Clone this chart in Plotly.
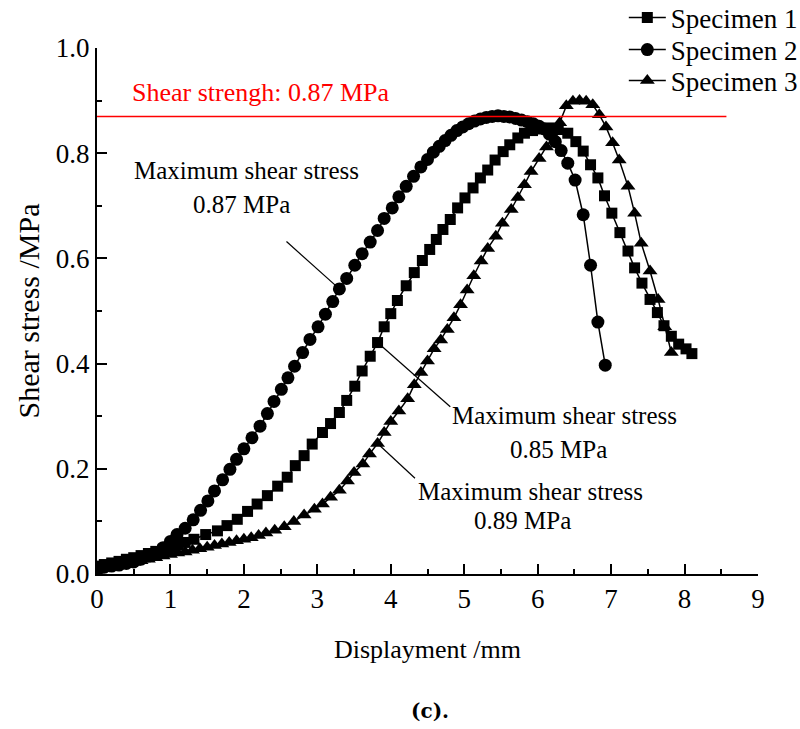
import plotly.graph_objects as go

# ---------------- data ----------------
s1_x = [0.00, 0.10, 0.20, 0.30, 0.40, 0.50, 0.60, 0.70, 0.80, 0.90, 1.00, 1.10, 1.20, 1.32, 1.48,
        1.64, 1.77, 1.91, 2.05, 2.18, 2.32, 2.46, 2.59, 2.70, 2.82, 2.93, 3.07, 3.18, 3.30, 3.40,
        3.51, 3.61, 3.72, 3.82, 3.91, 4.00, 4.09, 4.21, 4.32, 4.43, 4.53, 4.62, 4.71, 4.81, 4.91,
        5.01, 5.12, 5.22, 5.32, 5.42, 5.53, 5.62, 5.73, 5.82, 5.93, 6.05, 6.16, 6.28, 6.41, 6.52,
        6.62, 6.72, 6.82, 6.91, 7.01, 7.12, 7.23, 7.32, 7.42, 7.53, 7.63, 7.72, 7.82, 7.92, 8.02, 8.10]
s1_y = [0.015, 0.018, 0.021, 0.024, 0.028, 0.031, 0.035, 0.039, 0.043, 0.047, 0.051, 0.055, 0.060, 0.066, 0.075,
        0.082, 0.092, 0.104, 0.119, 0.133, 0.149, 0.167, 0.184, 0.206, 0.225, 0.247, 0.269, 0.286, 0.307, 0.330,
        0.357, 0.386, 0.414, 0.440, 0.470, 0.495, 0.520, 0.548, 0.573, 0.596, 0.617, 0.636, 0.655, 0.674, 0.696,
        0.715, 0.734, 0.753, 0.768, 0.787, 0.803, 0.816, 0.829, 0.838, 0.843, 0.846, 0.848, 0.845, 0.838, 0.822,
        0.804, 0.778, 0.753, 0.719, 0.686, 0.649, 0.614, 0.582, 0.553, 0.522, 0.497, 0.472, 0.452, 0.437, 0.428, 0.419]

s2_x = [0.00, 0.05, 0.10, 0.20, 0.30, 0.40, 0.50, 0.60, 0.70, 0.80, 0.90, 1.00, 1.09, 1.20, 1.31,
        1.41, 1.51, 1.60, 1.71, 1.81, 1.90, 2.00, 2.11, 2.22, 2.32, 2.41, 2.51, 2.60, 2.69, 2.80,
        2.90, 3.01, 3.11, 3.21, 3.30, 3.40, 3.51, 3.61, 3.72, 3.82, 3.91, 4.02, 4.11, 4.21, 4.31,
        4.41, 4.50, 4.58, 4.66, 4.74, 4.82, 4.90, 4.98, 5.06, 5.14, 5.22, 5.30, 5.38, 5.46, 5.54,
        5.62, 5.70, 5.78, 5.86, 5.94, 6.02, 6.09, 6.16, 6.24, 6.32, 6.41, 6.51, 6.62, 6.72, 6.82, 6.92]
s2_y = [0.010, 0.012, 0.013, 0.015, 0.017, 0.020, 0.023, 0.028, 0.034, 0.041, 0.050, 0.062, 0.075, 0.087, 0.103,
        0.121, 0.139, 0.158, 0.179, 0.199, 0.218, 0.238, 0.259, 0.281, 0.305, 0.328, 0.351, 0.373, 0.395, 0.421,
        0.446, 0.470, 0.494, 0.518, 0.542, 0.562, 0.587, 0.609, 0.631, 0.653, 0.676, 0.696, 0.717, 0.737, 0.756,
        0.774, 0.788, 0.802, 0.813, 0.824, 0.834, 0.843, 0.850, 0.856, 0.861, 0.865, 0.868, 0.870, 0.871, 0.870,
        0.869, 0.866, 0.863, 0.860, 0.856, 0.851, 0.846, 0.836, 0.822, 0.805, 0.781, 0.749, 0.683, 0.587, 0.479, 0.397]

s3_x = [0.00, 0.10, 0.20, 0.30, 0.40, 0.50, 0.60, 0.70, 0.80, 0.90, 1.00, 1.10, 1.20, 1.30, 1.40,
        1.50, 1.60, 1.70, 1.80, 1.90, 2.00, 2.10, 2.20, 2.30, 2.42, 2.55, 2.68, 2.82, 2.96, 3.07,
        3.18, 3.30, 3.41, 3.50, 3.62, 3.71, 3.82, 3.91, 4.00, 4.11, 4.23, 4.32, 4.41, 4.50, 4.59,
        4.68, 4.77, 4.86, 4.95, 5.04, 5.13, 5.23, 5.32, 5.43, 5.52, 5.64, 5.73, 5.82, 5.91, 6.02,
        6.12, 6.21, 6.30, 6.39, 6.48, 6.57, 6.66, 6.75, 6.84, 6.93, 7.02, 7.11, 7.23, 7.32, 7.41,
        7.53, 7.64, 7.73, 7.82]
s3_y = [0.010, 0.012, 0.014, 0.017, 0.020, 0.022, 0.025, 0.028, 0.031, 0.034, 0.037, 0.040, 0.042, 0.045, 0.048,
        0.051, 0.054, 0.057, 0.060, 0.063, 0.066, 0.069, 0.073, 0.078, 0.083, 0.090, 0.100, 0.112, 0.123, 0.133,
        0.146, 0.159, 0.177, 0.193, 0.209, 0.228, 0.248, 0.269, 0.290, 0.310, 0.333, 0.360, 0.383, 0.405, 0.428,
        0.445, 0.465, 0.487, 0.512, 0.540, 0.567, 0.595, 0.619, 0.642, 0.667, 0.693, 0.716, 0.740, 0.765, 0.790,
        0.812, 0.833, 0.858, 0.890, 0.899, 0.900, 0.899, 0.892, 0.873, 0.850, 0.820, 0.787, 0.737, 0.686, 0.629,
        0.576, 0.522, 0.470, 0.421]

series_names = ["Specimen 1", "Specimen 2", "Specimen 3"]
shear_strength = 0.87
strength_label = "Shear strengh: 0.87 MPa"
max_labels = ["0.87 MPa", "0.85 MPa", "0.89 MPa"]
x_ticks = list(range(0, 10))
y_ticks = [0.0, 0.2, 0.4, 0.6, 0.8, 1.0]

FONT = "Liberation Serif, Times New Roman, serif"

fig = go.Figure()
fig.add_trace(go.Scatter(x=s1_x, y=s1_y, mode="lines+markers", name=series_names[0], legend="legend",
                         line=dict(color="black", width=1.5),
                         marker=dict(symbol="square", size=11, color="black")))
fig.add_trace(go.Scatter(x=s2_x, y=s2_y, mode="lines+markers", name=series_names[1], legend="legend2",
                         line=dict(color="black", width=1.5),
                         marker=dict(symbol="circle", size=13, color="black")))
fig.add_trace(go.Scatter(x=s3_x, y=s3_y, mode="lines+markers", name=series_names[2], legend="legend3",
                         line=dict(color="black", width=1.5),
                         marker=dict(symbol="triangle-up", size=13, color="black")))

# shear strength reference line
fig.add_shape(type="line", xref="x", yref="y", x0=0, x1=8.57, y0=shear_strength, y1=shear_strength,
              line=dict(color="red", width=1.5), layer="above")
fig.add_annotation(x=2.23, y=0.916, xref="x", yref="y", text=strength_label, showarrow=False,
                   font=dict(family=FONT, size=26, color="red"))

# leader lines from annotated points
def pt(xs, ys, xv):
    i = min(range(len(xs)), key=lambda k: abs(xs[k] - xv))
    return xs[i], ys[i]

p2 = pt(s2_x, s2_y, 3.30)
p1 = pt(s1_x, s1_y, 3.82)
p3 = pt(s3_x, s3_y, 3.82)
leaders = [((2.58, 0.632), p2), ((4.81, 0.318), p1), ((4.33, 0.182), p3)]
for (a, b) in leaders:
    fig.add_shape(type="line", xref="x", yref="y", x0=a[0], y0=a[1], x1=b[0], y1=b[1],
                  line=dict(color="black", width=1.2))

ann_pos = [((2.04, 0.768), (1.97, 0.703)),
           ((6.37, 0.302), (6.28, 0.236)),
           ((5.90, 0.156), (5.79, 0.101))]
for k, ((l1x, l1y), (l2x, l2y)) in enumerate(ann_pos):
    fig.add_annotation(x=l1x, y=l1y, xref="x", yref="y", text="Maximum shear stress",
                       showarrow=False, font=dict(family=FONT, size=25, color="black"))
    fig.add_annotation(x=l2x, y=l2y, xref="x", yref="y", text=max_labels[k],
                       showarrow=False, font=dict(family=FONT, size=25, color="black"))

# caption
fig.add_annotation(x=0.504, y=-0.287, xref="paper", yref="paper", text="<b>(c).</b>",
                   showarrow=False, font=dict(family="DejaVu Serif, serif", size=20, color="black"))

axis_common = dict(showline=True, linecolor="black", linewidth=2, ticks="inside", ticklen=10,
                   tickwidth=2, tickcolor="black", showgrid=False, zeroline=False,
                   tickfont=dict(family=FONT, size=27, color="black"), mirror=False)

fig.update_xaxes(range=[0, 9], tickvals=x_ticks, ticktext=[str(v) for v in x_ticks],
                 minor=dict(ticks="inside", ticklen=5, tickwidth=2, tickcolor="black", dtick=0.5, showgrid=False),
                 title=dict(text="Displayment /mm", font=dict(family=FONT, size=26, color="black"), standoff=26),
                 **axis_common)
fig.update_yaxes(range=[0, 1.0], tickvals=y_ticks, ticktext=[f"{v:.1f}" for v in y_ticks],
                 minor=dict(ticks="inside", ticklen=5, tickwidth=2, tickcolor="black", dtick=0.1, showgrid=False),
                 title=dict(text="Shear stress /MPa", font=dict(family=FONT, size=30, color="black"), standoff=7),
                 **axis_common)

leg_common = dict(x=0.797, xanchor="left", yanchor="middle", bgcolor="rgba(0,0,0,0)",
                  font=dict(family=FONT, size=27, color="black"), itemwidth=37)
# legend centre positions (pixel rows 18, 50, 81 -> paper y)
leg_y = [(574 - 18) / 526, (574 - 50) / 526, (574 - 81) / 526]

fig.update_layout(
    width=800, height=729,
    margin=dict(l=97, r=42, t=48, b=155, autoexpand=False),
    plot_bgcolor="white", paper_bgcolor="white",
    showlegend=True,
    legend=dict(y=leg_y[0], **leg_common),
    legend2=dict(y=leg_y[1], **leg_common),
    legend3=dict(y=leg_y[2], **leg_common),
)

fig.write_html("out.html")
